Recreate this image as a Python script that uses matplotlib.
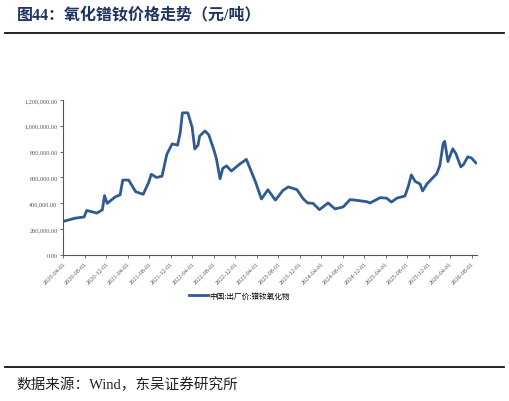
import matplotlib
matplotlib.use("Agg")
import matplotlib.pyplot as plt
from matplotlib.ticker import FuncFormatter
from matplotlib.lines import Line2D

months = [0,2.2,3.9,4.4,6.3,7.3,7.7,8.2,9.7,10.6,11.1,12.2,13.5,14.9,15.9,16.4,17.4,18.4,19.3,20.3,21.3,21.8,22.2,23.2,24,24.5,25.1,25.4,26.4,27.1,28,28.5,29.2,29.7,30.4,31.3,32.9,
          34.1,35.8,36.9,38.1,39.5,40.9,41.9,43.5,44.7,45.5,46.5,47.7,49.3,50.6,52.1,53.4,54.3,56.5,57.1,59,60.2,61.1,62.1,63.6,64.2,64.8,65.5,66.4,66.9,67.7,68.6,69.5,70.1,70.7,71,71.6,72.5,73.1,74,74.5,75.3,76,76.8]
prices = [260000,285000,295000,345000,325000,350000,460000,400000,450000,465000,580000,580000,490000,470000,560000,625000,600000,610000,780000,860000,850000,950000,1100000,1100000,990000,820000,850000,920000,960000,930000,820000,750000,590000,670000,690000,650000,705000,
          740000,565000,434000,505000,425000,500000,527000,506000,434000,403000,400000,351000,403000,357000,372000,429000,425000,413000,403000,444000,440000,410000,440000,457000,527000,620000,570000,550000,496000,550000,590000,628000,692000,860000,880000,723000,822000,783000,682000,700000,760000,750000,713000]
tick_labels = ["2020-04-01","2020-08-01","2020-12-01","2021-04-01","2021-08-01","2021-12-01","2022-04-01","2022-08-01","2022-12-01","2023-04-01",
               "2023-08-01","2023-12-01","2024-04-01","2024-08-01","2024-12-01","2025-04-01","2025-08-01","2025-12-01","2026-04-01","2026-08-01"]
series_name = "中国:出厂价:镨钕氧化物"

fig = plt.figure(figsize=(5.09, 4.02), dpi=100)
ax = fig.add_axes([0.124, 0.363, 0.813, 0.386])
color = "#2E5B92"
ax.plot(months, prices, color=color, lw=2)
ax.set_ylim(0, 1200000)
ax.set_yticks(range(0, 1200001, 200000))
ax.yaxis.set_major_formatter(FuncFormatter(lambda v, p: f"{v:,.2f}"))
ax.set_xlim(0, 77)
ax.set_xticks([4*i for i in range(len(tick_labels))])
ax.set_xticklabels(tick_labels, rotation=45, ha="right", rotation_mode="anchor")
for lab in ax.get_xticklabels() + ax.get_yticklabels():
    lab.set_fontfamily("Liberation Serif")
    lab.set_fontsize(4.5)
    lab.set_color("#333333")
ax.tick_params(axis="both", length=2, width=0.6, pad=2, colors="#555555")
for s in ["top", "right"]:
    ax.spines[s].set_visible(False)
for s in ["left", "bottom"]:
    ax.spines[s].set_color("#555555")
    ax.spines[s].set_linewidth(0.8)

fig.legend([Line2D([0], [0], color=color, lw=2)], [series_name], loc="center",
           bbox_to_anchor=(0.47, 0.262), frameon=False, prop={"family": "Noto Sans CJK SC", "size": 5.5},
           handlelength=2.5, handletextpad=0.2)

fig.text(0.033, 0.962, "图44：氧化镨钕价格走势（元/吨）", fontsize=11.5, fontweight="bold",
         family=["Liberation Serif", "Noto Sans CJK SC"], color="#1F3461", va="center")
fig.add_artist(Line2D([0.01, 0.99], [0.915, 0.915], color="#111111", lw=1.3))
fig.add_artist(Line2D([0.01, 0.99], [0.085, 0.085], color="#111111", lw=1.3))
fig.text(0.033, 0.042, "数据来源：Wind，东吴证券研究所", fontsize=10.5,
         family=["Liberation Serif", "Noto Sans CJK SC"], color="#222222", va="center")
fig.savefig("out.png", dpi=100)
